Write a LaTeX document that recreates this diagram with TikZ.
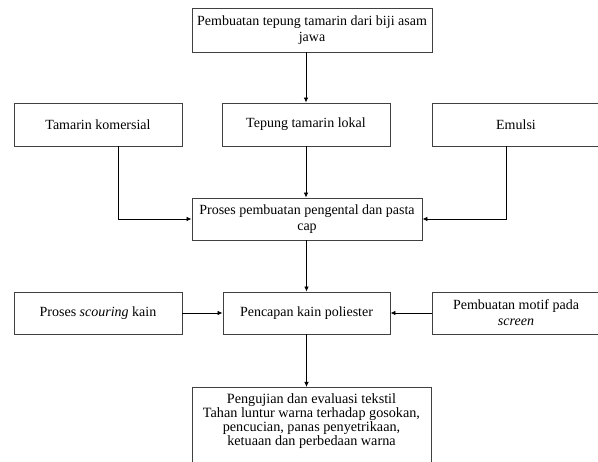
\documentclass[tikz,border=0pt]{standalone}
\usepackage{fontspec}
\setmainfont{Liberation Serif}
\usetikzlibrary{arrows.meta}
\begin{document}
\begin{tikzpicture}[x=1pt,y=-1pt,
  box/.style={draw=black!75, line width=0.9pt, align=center, inner sep=1pt,
    font=\fontsize{14}{16}\selectfont},
  txt/.style={align=center, inner sep=0pt, font=\fontsize{14.2}{13.8}\selectfont},
  conn/.style={line width=0.8pt, -{Latex[length=5pt,width=4.5pt]}}]
\useasboundingbox (0,0) rectangle (598,462);
\node[box, minimum width=240pt, minimum height=44pt] (top) at (312,30)
  {Pembuatan tepung tamarin dari biji asam\\jawa};
\node[box, minimum width=168pt, minimum height=43pt] (tk) at (98,124.5) {Tamarin komersial};
\node[box, minimum width=168pt, minimum height=43pt] (tl) at (306,124.5) {Tepung tamarin lokal};
\node[box, minimum width=168pt, minimum height=43pt] (em) at (516,124.5) {Emulsi};
\node[box, minimum width=230pt, minimum height=42pt] (pr) at (307,219)
  {Proses pembuatan pengental dan pasta\\cap};
\node[box, minimum width=168pt, minimum height=42pt] (sc) at (98,313) {Proses \textit{scouring} kain};
\node[box, minimum width=167pt, minimum height=42pt] (pc) at (306.5,313) {Pencapan kain poliester};
\node[box, minimum width=168pt, minimum height=42pt] (mo) at (516,313)
  {Pembuatan motif pada\\\textit{screen}};
\node[box, minimum width=239pt, minimum height=90pt, anchor=north] (ev) at (311.5,387) {};
\node[txt] (evt) at (311.5,421)
  {Pengujian dan evaluasi tekstil\\Tahan luntur warna terhadap gosokan,\\pencucian, panas penyetrikaan,\\ketuaan dan perbedaan warna};
\draw[conn] (top.south -| tl) -- (tl.north);
\draw[conn] (tl.south) -- (tl.south |- pr.north);
\draw[conn] ([xshift=20pt]tk.south) |- (pr.west);
\draw[conn] ([xshift=-10pt]em.south) |- (pr.east);
\draw[conn] (pr.south -| pc) -- (pc.north);
\draw[conn] (sc.east) -- (pc.west);
\draw[conn] (mo.west) -- (pc.east);
\draw[conn] (pc.south) -- (ev.north -| pc);
\end{tikzpicture}
\end{document}
